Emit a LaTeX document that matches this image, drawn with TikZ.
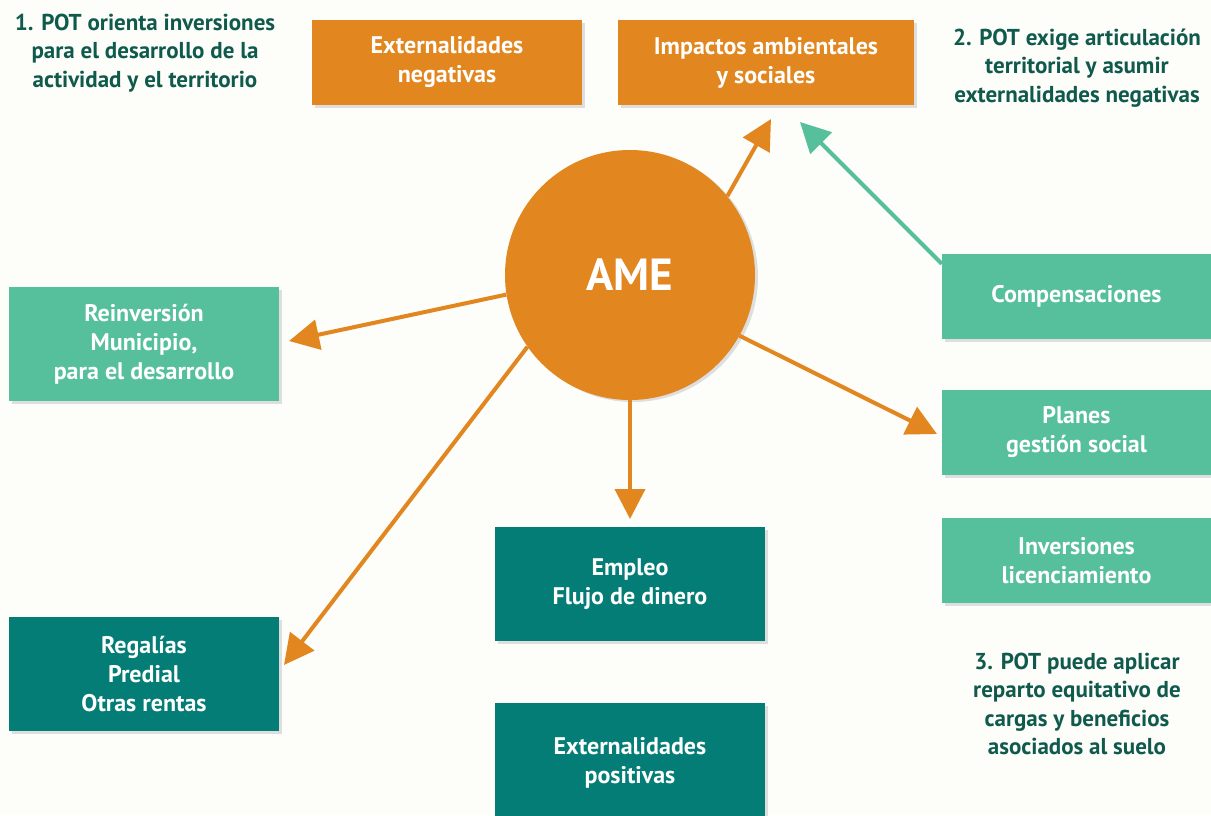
\documentclass[tikz,border=0pt]{standalone}
\usepackage{fontspec}
\setmainfont{PT Sans}
\usetikzlibrary{arrows.meta,shadows}
\definecolor{bgc}{HTML}{FDFDF9}
\definecolor{orng}{HTML}{E2861F}
\definecolor{lgreen}{HTML}{56BF9B}
\definecolor{dteal}{HTML}{037D76}
\definecolor{headc}{HTML}{0F5A4C}
\begin{document}
\begin{tikzpicture}[x=1pt,y=-1pt,
  box/.style={minimum width=270pt, minimum height=85pt, inner sep=0pt,
    align=center, text=white, font=\bfseries\fontsize{24}{29}\selectfont,
    drop shadow={shadow xshift=3pt, shadow yshift=-3pt, fill=black!13, opacity=1}},
  obox/.style={box, fill=orng},
  gbox/.style={box, fill=lgreen},
  tbox/.style={box, fill=dteal, minimum height=114pt},
  head/.style={align=center, text=headc, font=\bfseries\fontsize{23}{28.5}\selectfont},
  oarr/.style={draw=orng, line width=4pt, -{Triangle[length=30pt,width=30pt]}},
  garr/.style={draw=lgreen, line width=4pt, -{Triangle[length=30pt,width=30pt]}}]
\useasboundingbox[fill=bgc] (0,0) rectangle (1211,815);
\node[obox] (extneg) at (447,62.5) {Externalidades\\negativas};
\node[obox, minimum width=296pt] (impact) at (766,62.5) {Impactos ambientales\\y sociales};
\node[gbox, minimum height=114pt] (reinv) at (144,344) {Reinversión\\Municipio,\\para el desarrollo};
\node[gbox, minimum width=269pt] (comp) at (1076.5,296.5) {Compensaciones};
\node[gbox, minimum width=269pt] (planes) at (1076.5,432.5) {Planes\\gestión social};
\node[gbox, minimum width=269pt] (invers) at (1076.5,560.5) {Inversiones\\licenciamiento};
\node[tbox] (empleo) at (630,584) {Empleo\\Flujo de dinero};
\node[tbox] (regal) at (144,674) {Regalías\\Predial\\Otras rentas};
\node[tbox, minimum height=120pt] (extpos) at (630,763) {\raisebox{8pt}{\parbox{270pt}{\centering Externalidades\\positivas}}};
\node[circle, fill=orng, minimum size=250pt, inner sep=0pt, text=white,
  font=\bfseries\fontsize{45}{50}\selectfont,
  drop shadow={shadow xshift=3pt, shadow yshift=-2pt, fill=black!13, opacity=1}] (ame) at (630,275) {AME};
\node[head] (h1) at (145,53) {1. POT orienta inversiones\\para el desarrollo de la\\actividad y el territorio};
\node[head] (h2) at (1077,68) {2. POT exige articulación\\territorial y asumir\\externalidades negativas};
\node[head] (h3) at (1077,704) {3. POT puede aplicar\\reparto equitativo de\\cargas y beneficios\\asociados al suelo};
\coordinate (tImp) at (771,119);
\coordinate (tComp) at (800,122);
\coordinate (tReinv) at (289,341);
\coordinate (tRegal) at (284,665);
\coordinate (tEmp) at (630,519);
\coordinate (tPlan) at (937,434);
\draw[oarr] (ame.39) -- (tImp);
\draw[garr] (comp.north west) ++(0,10) coordinate (cs) (cs) -- (tComp);
\draw[oarr] (ame.189) -- (tReinv);
\draw[oarr] (ame.215) -- (tRegal);
\draw[oarr] (ame.south) -- (tEmp);
\draw[oarr] (ame.-29) -- (tPlan);
\end{tikzpicture}
\end{document}
